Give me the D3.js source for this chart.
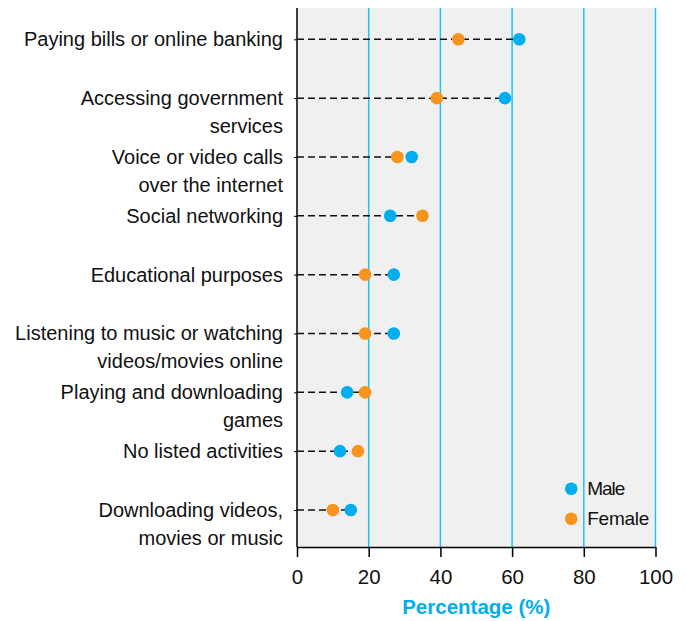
<!DOCTYPE html>
<html lang="en">
<head>
<meta charset="UTF-8">
<title>Online activities by sex</title>
<script src="https://cdn.jsdelivr.net/npm/d3@7"></script>
<style>
    body { margin: 0; background: #fff; }
    svg text { font-family: "Liberation Sans Narrow", "Arial Narrow", "Liberation Sans", sans-serif; }
</style>
</head>
<body>
<script>
    // data
    const categories = [
        ["Paying bills or online banking"],
        ["Accessing government", "services"],
        ["Voice or video calls", "over the internet"],
        ["Social networking"],
        ["Educational purposes"],
        ["Listening to music or watching", "videos/movies online"],
        ["Playing and downloading", "games"],
        ["No listed activities"],
        ["Downloading videos,", "movies or music"]
    ];
    const male   = [62, 58, 32, 26, 27, 27, 14, 12, 15];
    const female = [45, 39, 28, 35, 19, 19, 19, 17, 10];
    const xTicks = [0, 20, 40, 60, 80, 100];

    const width = 685, height = 621;
    const margin = {top: 8, right: 30, bottom: 74, left: 297};
    const blue = "#00aeef", orange = "#f7941d";

    const svg = d3.select("body").append("svg")
        .attr("width", width)
        .attr("height", height);

    const x = d3.scaleLinear()
        .domain([0, 100])
        .range([margin.left, width - margin.right + 0.5]);

    const keys = categories.map((d, i) => i);
    const y = d3.scalePoint()
        .domain(keys)
        .range([margin.top + 31.3, margin.top + 502]);

    const plotBottom = height - margin.bottom;

    // background
    svg.append("rect")
        .attr("x", x(0))
        .attr("y", margin.top)
        .attr("width", x(100) - x(0))
        .attr("height", plotBottom - margin.top)
        .attr("fill", "#f0f0f0");

    // vertical grid
    svg.append("g")
        .selectAll("line")
        .data(xTicks.slice(1))
        .join("line")
        .attr("x1", d => x(d)).attr("x2", d => x(d))
        .attr("y1", margin.top).attr("y2", plotBottom)
        .attr("stroke", "#1ec3f3")
        .attr("stroke-width", 1.5);

    // dashed lines from 0 to the further dot
    svg.append("g")
        .selectAll("line")
        .data(keys)
        .join("line")
        .attr("x1", x(0))
        .attr("x2", i => x(Math.max(male[i], female[i])))
        .attr("y1", i => y(i)).attr("y2", i => y(i))
        .attr("stroke", "#111")
        .attr("stroke-width", 1.5)
        .attr("stroke-dasharray", "7,4");

    // dots
    const r = 6.3;
    svg.append("g")
        .selectAll("circle")
        .data(keys)
        .join("circle")
        .attr("cx", i => x(female[i]))
        .attr("cy", i => y(i))
        .attr("r", r)
        .attr("fill", orange);

    svg.append("g")
        .selectAll("circle")
        .data(keys)
        .join("circle")
        .attr("cx", i => x(male[i]))
        .attr("cy", i => y(i))
        .attr("r", r)
        .attr("fill", blue);

    // x axis
    const xAxis = svg.append("g")
        .attr("transform", `translate(0, ${plotBottom})`)
        .call(d3.axisBottom(x).tickValues(xTicks).tickSize(10).tickSizeOuter(0));
    xAxis.select(".domain").attr("stroke", "#000").attr("stroke-width", 1.5);
    xAxis.selectAll(".tick line").attr("stroke", "#000").attr("stroke-width", 1.5);
    xAxis.selectAll(".tick text")
        .attr("font-size", 20.5)
        .attr("fill", "#111")
        .attr("dy", "0.35em")
        .attr("y", 30);

    // y axis
    const yAxis = svg.append("g")
        .attr("transform", `translate(${x(0)}, 0)`)
        .call(d3.axisLeft(y).tickSize(3).tickFormat(""));
    yAxis.select(".domain")
        .attr("d", `M0,${margin.top}V${plotBottom}`)
        .attr("stroke", "#000").attr("stroke-width", 1.5);
    yAxis.selectAll(".tick line").attr("stroke", "#000");

    // category labels
    const labels = svg.append("g")
        .selectAll("text")
        .data(keys)
        .join("text")
        .attr("x", x(0) - 14)
        .attr("y", i => y(i))
        .attr("text-anchor", "end")
        .attr("font-size", 20)
        .attr("fill", "#111");
    labels.selectAll("tspan")
        .data(i => categories[i])
        .join("tspan")
        .attr("x", x(0) - 14)
        .attr("dy", (d, j) => j === 0 ? "0.35em" : 28)
        .text(d => d);

    // axis title
    svg.append("text")
        .attr("x", (x(0) + x(100)) / 2)
        .attr("y", 614)
        .attr("text-anchor", "middle")
        .attr("font-size", 20.5)
        .attr("font-weight", "bold")
        .attr("fill", blue)
        .text("Percentage (%)");

    // legend
    const legend = svg.append("g")
        .selectAll("g")
        .data([["Male", blue], ["Female", orange]])
        .join("g")
        .attr("transform", (d, i) => `translate(${x(76.5)}, ${488.7 + i * 30})`);
    legend.append("circle")
        .attr("r", r)
        .attr("fill", d => d[1]);
    legend.append("text")
        .attr("x", 16)
        .attr("dy", "0.35em")
        .attr("font-size", 19)
        .attr("textLength", d => d[0] === "Male" ? 38 : 62)
        .attr("fill", "#111")
        .text(d => d[0]);
</script>
</body>
</html>
